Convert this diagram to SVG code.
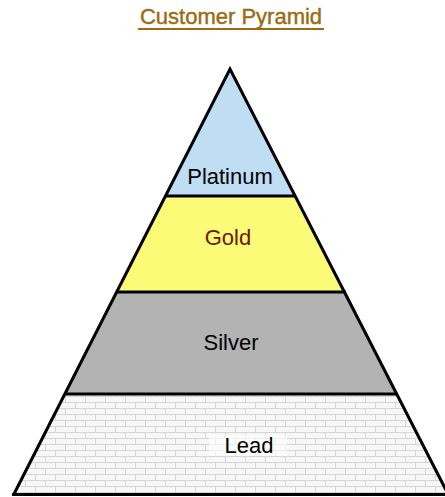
<svg xmlns="http://www.w3.org/2000/svg" width="445" height="497" viewBox="0 0 445 497">
<defs>
<pattern id="brick" x="0" y="396" width="20" height="12" patternUnits="userSpaceOnUse">
<rect width="20" height="12" fill="#F7F7F7"/>
<path d="M0 0.5H20M0 6.5H20M5.5 0V6M15.5 6V12" stroke="#D6D6D6" stroke-width="1" fill="none"/>
</pattern>
</defs>
<style>
.lbl{font-family:"Liberation Sans",Arial,sans-serif;font-size:22px;text-anchor:middle;fill:#000}
.band{stroke:none}
.edge{stroke:#000;stroke-width:3;fill:none}
</style>
<rect width="445" height="497" fill="#fff"/>
<g id="title">
<text x="231" y="24" style="font-family:'Liberation Sans',Arial,sans-serif;font-size:22px;fill:#9C6A12;stroke:#9C6A12;stroke-width:0.4;text-anchor:middle">Customer Pyramid</text>
<line x1="138" y1="29" x2="324" y2="29" stroke="#9C6A12" stroke-width="2"/>
</g>
<g id="lead">
<polygon class="band" points="64.5,394 397,394 448,494 14,494" fill="url(#brick)"/>
<rect x="209" y="435" width="78" height="21" fill="#fff" opacity="0.6"/>
<text class="lbl" x="249" y="453">Lead</text>
</g>
<g id="silver">
<polygon class="band" points="116.5,292 346,292 397,394 64.5,394" fill="#B3B3B3"/>
<text class="lbl" x="231" y="350">Silver</text>
</g>
<g id="gold">
<polygon class="band" points="165,196 296,196 346,292 116.5,292" fill="#FBFB78"/>
<text class="lbl" x="228" y="245" style="fill:#6B1A00">Gold</text>
</g>
<g id="platinum">
<polygon class="band" points="230,69 296,196 165,196" fill="#BFDDF3"/>
<text class="lbl" x="230" y="184">Platinum</text>
</g>
<g id="connectors">
<polyline class="edge" points="14,494 230,69 448,494"/>
<line class="edge" x1="12" y1="494.5" x2="445" y2="494.5"/>
<line class="edge" x1="165" y1="196" x2="296" y2="196"/>
<line class="edge" x1="116.5" y1="292" x2="346" y2="292"/>
<line class="edge" x1="64.5" y1="394" x2="397" y2="394"/>
</g>
</svg>
